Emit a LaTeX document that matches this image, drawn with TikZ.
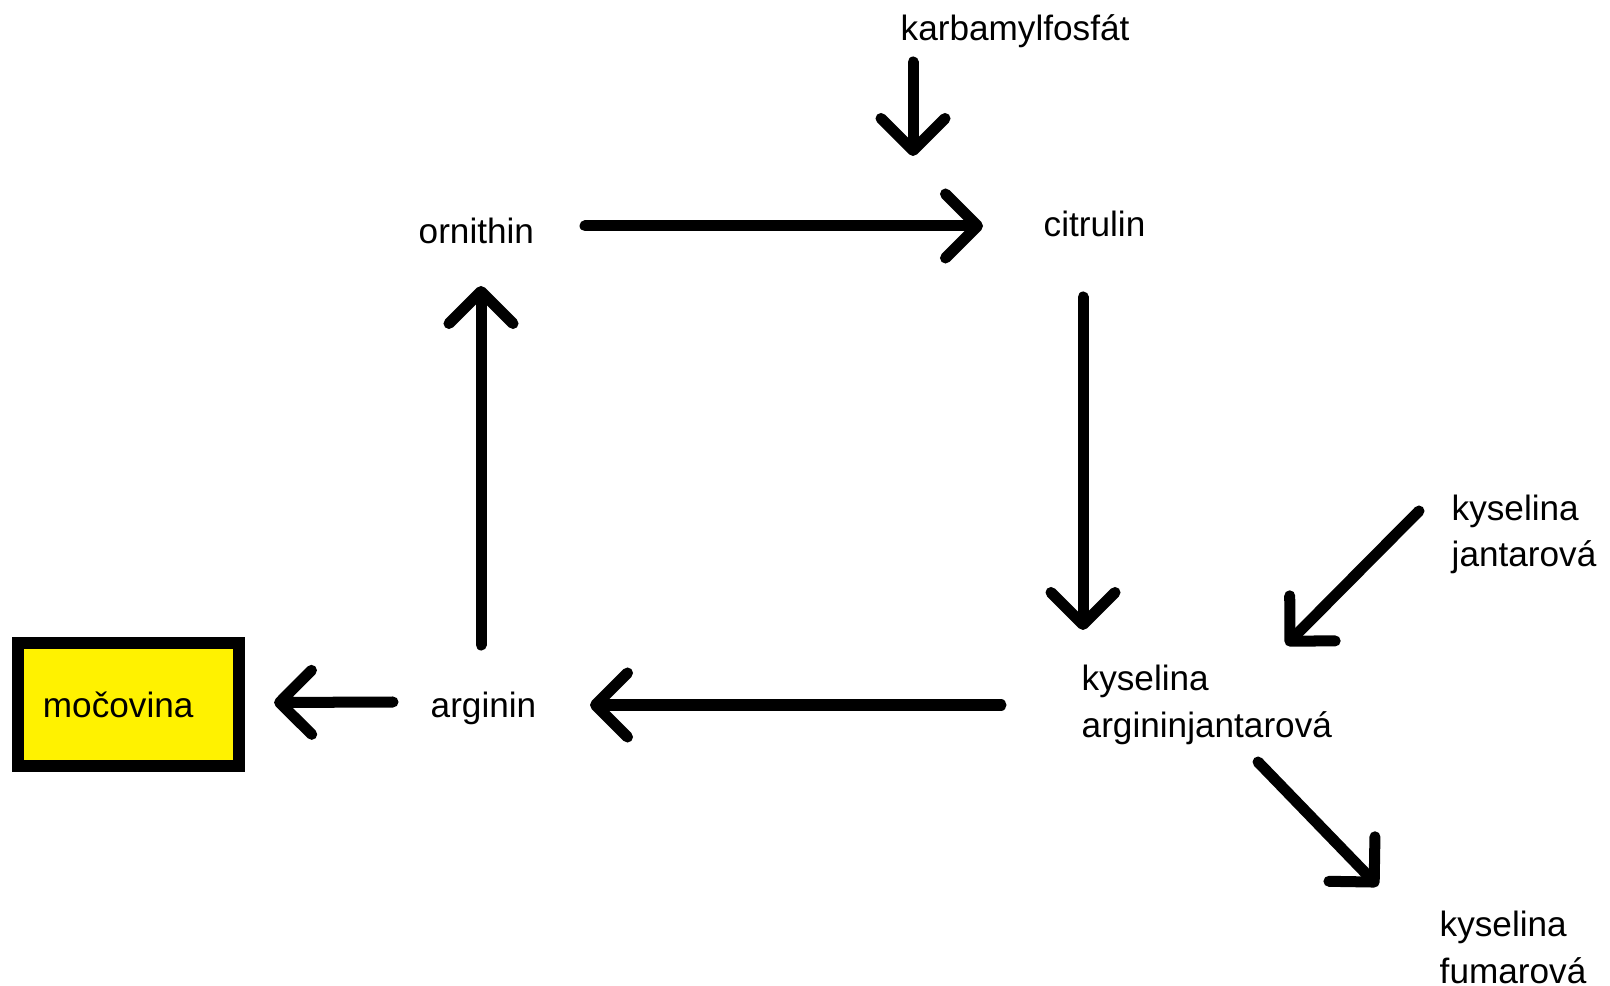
\documentclass[tikz,border=0pt]{standalone}
\usepackage{fontspec}
\setmainfont{Liberation Sans}
\usetikzlibrary{arrows.meta,calc}

\tikzset{
  lbl/.style={inner sep=0pt, anchor=base west, align=left,
    font=\fontsize{10}{13.1}\selectfont},
  arr/.style={line width=0.11cm, line cap=round,
    -{Straight Barb[length=0.32cm, width=0.64cm, line join=round, line cap=round]}},
  product/.style={draw=black, line width=0.12cm, fill=yellow,
    minimum width=2.21cm, minimum height=1.23cm, text width=1.71cm,
    inner xsep=0.25cm, align=left, font=\fontsize{10}{12}\selectfont}
}

\begin{document}
\begin{tikzpicture}[x=0.01cm, y=-0.01cm]
  \useasboundingbox (0,0) rectangle (1610,986);

  \node[lbl] (karb) at (900,41) {karbamylfosfát};
  \node[lbl] (orn) at (418,244) {ornithin};
  \node[lbl] (cit) at (1043,237) {citrulin};
  \node[lbl] (arg) at (430,717) {arginin};
  \node[lbl] (kys) at (1081,737) {kyselina\\argininjantarová};
  \node[lbl] (jant) at (1451,567) {kyselina\\jantarová};
  \node[lbl] (fum) at (1439,983) {kyselina\\fumarová};
  \node[product] (moc) at (128.5,704.5) {močovina};
  \coordinate (join) at (913,156);

  \draw[arr] ($(karb.base west)+(13,21)$) -- (join);
  \draw[arr] ($(orn.base west)+(167,-18)$) -- ($(cit.base west)+(-60,-11)$);
  \draw[arr] ($(cit.base west)+(40,60)$) -- ($(kys.base west)+(2,-107)$);
  \draw[arr] ($(kys.base west)+(-80,-32)$) -- ($(arg.base west)+(160,-12)$);
  \draw[arr] ($(arg.base west)+(51,-72)$) -- ($(orn.base west)+(63,42)$);
  \draw[arr] ($(arg.base west)+(-37,-15)$) -- ($(moc.east)+(29,-2)$);

  \draw[arr] ($(jant.base west)+(-32,-56)$) -- ($(kys.base west)+(205,-92)$);
  \draw[arr] ($(kys.base west)+(177,25)$) -- ($(fum.base west)+(-61,-97)$);
\end{tikzpicture}
\end{document}
